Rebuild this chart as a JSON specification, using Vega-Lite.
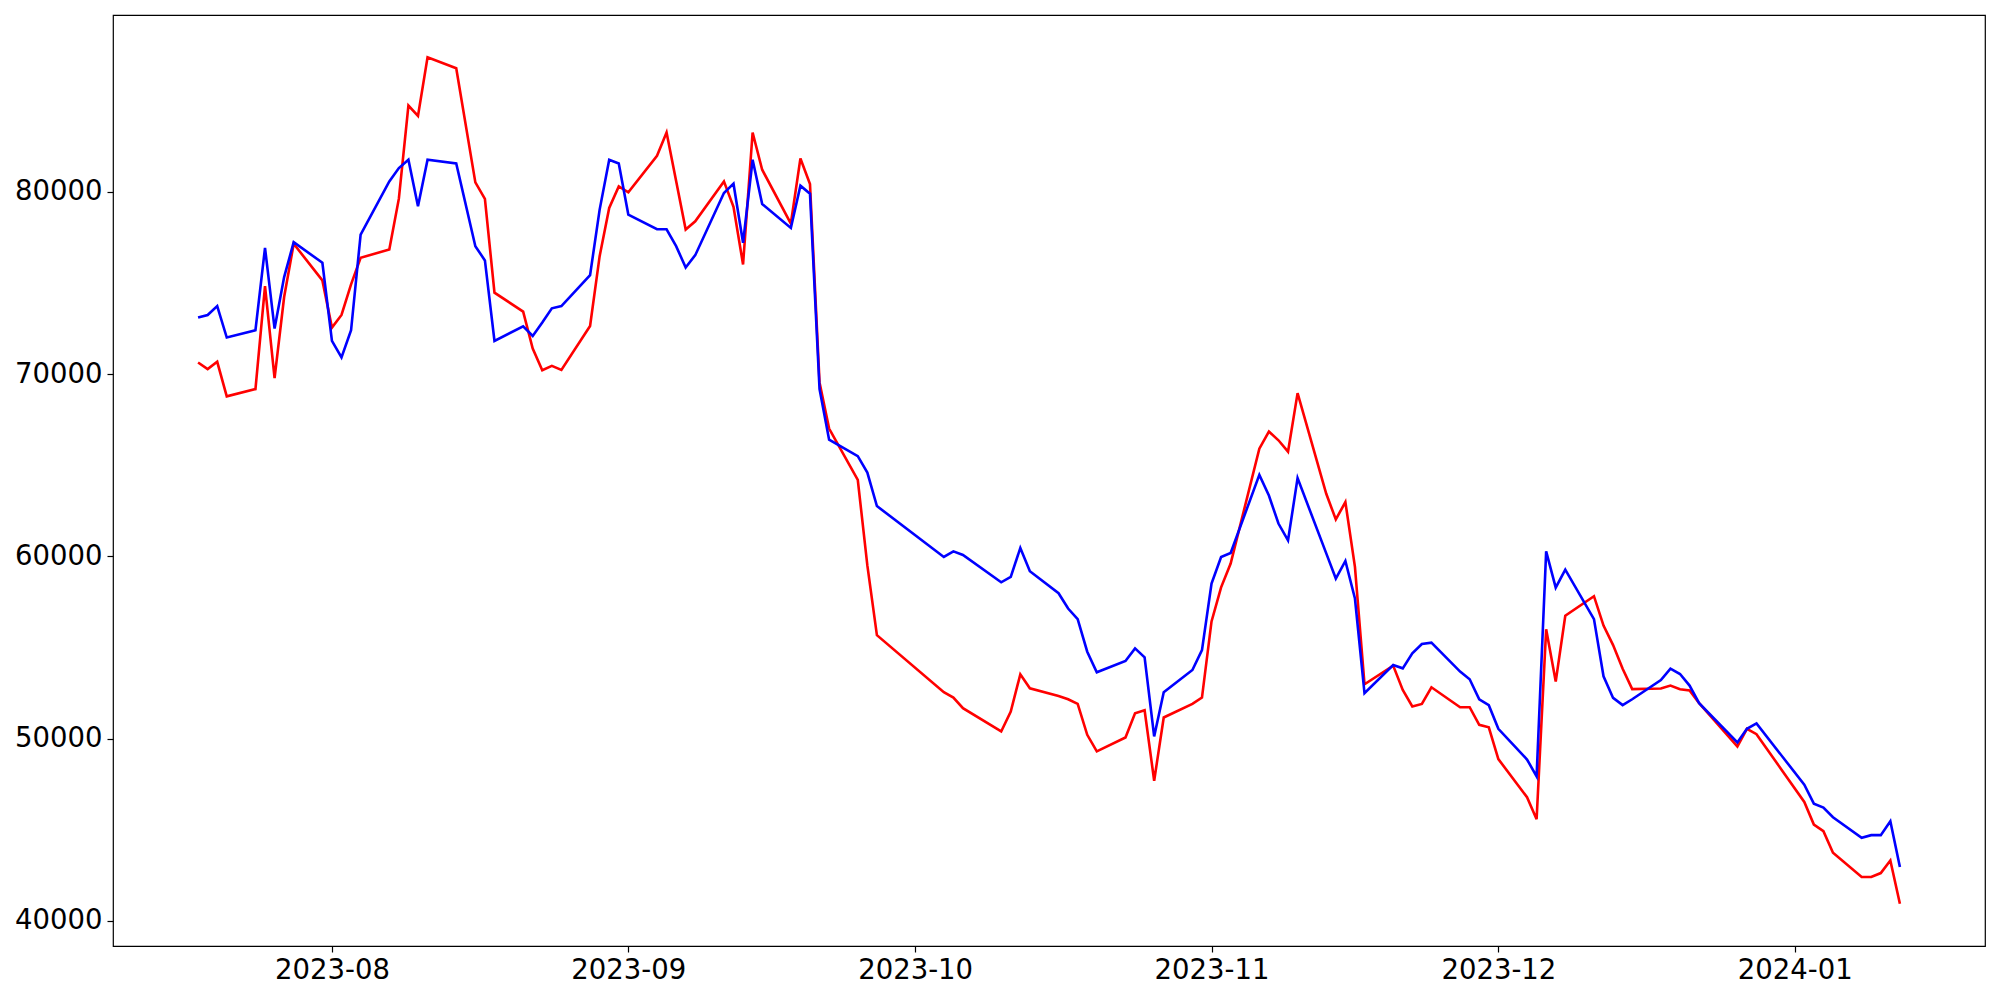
{
  "$schema": "https://vega.github.io/schema/vega-lite/v6.json",
  "width": 1872,
  "height": 931,
  "autosize": {"type": "none"},
  "padding": {"left": 113, "top": 15, "right": 15, "bottom": 54},
  "background": "white",
  "config": {
    "view": {"stroke": "black", "strokeWidth": 1.2},
    "axis": {
      "domain": false,
      "grid": false,
      "ticks": true,
      "tickColor": "black",
      "tickSize": 6,
      "tickWidth": 1.2,
      "labelColor": "black",
      "labelFont": "DejaVu Sans",
      "labelFontSize": 27.5,
      "labelPadding": 5,
      "title": null
    }
  },
  "data": {
    "values": [
      {"date": "2023-07-18", "A": 70640, "B": 73103},
      {"date": "2023-07-19", "A": 70274, "B": 73246},
      {"date": "2023-07-20", "A": 70676, "B": 73738},
      {"date": "2023-07-21", "A": 68780, "B": 72009},
      {"date": "2023-07-24", "A": 69179, "B": 72408},
      {"date": "2023-07-25", "A": 74833, "B": 76935},
      {"date": "2023-07-26", "A": 69781, "B": 72501},
      {"date": "2023-07-27", "A": 74231, "B": 75326},
      {"date": "2023-07-28", "A": 77153, "B": 77242},
      {"date": "2023-07-31", "A": 75145, "B": 76114},
      {"date": "2023-08-01", "A": 72556, "B": 71823},
      {"date": "2023-08-02", "A": 73246, "B": 70914},
      {"date": "2023-08-03", "A": 74926, "B": 72408},
      {"date": "2023-08-04", "A": 76387, "B": 77663},
      {"date": "2023-08-07", "A": 76842, "B": 80580},
      {"date": "2023-08-08", "A": 79633, "B": 81313},
      {"date": "2023-08-09", "A": 84740, "B": 81768},
      {"date": "2023-08-10", "A": 84176, "B": 79212},
      {"date": "2023-08-11", "A": 87389, "B": 81768},
      {"date": "2023-08-14", "A": 86787, "B": 81566},
      {"date": "2023-08-16", "A": 80525, "B": 77024},
      {"date": "2023-08-17", "A": 79617, "B": 76240},
      {"date": "2023-08-18", "A": 74472, "B": 71823},
      {"date": "2023-08-21", "A": 73432, "B": 72627},
      {"date": "2023-08-22", "A": 71407, "B": 72097},
      {"date": "2023-08-23", "A": 70219, "B": 72830},
      {"date": "2023-08-24", "A": 70455, "B": 73613},
      {"date": "2023-08-25", "A": 70236, "B": 73738},
      {"date": "2023-08-28", "A": 72644, "B": 75435},
      {"date": "2023-08-29", "A": 76475, "B": 79031},
      {"date": "2023-08-30", "A": 79124, "B": 81768},
      {"date": "2023-08-31", "A": 80306, "B": 81566},
      {"date": "2023-09-01", "A": 79978, "B": 78758},
      {"date": "2023-09-04", "A": 81987, "B": 77953},
      {"date": "2023-09-05", "A": 83262, "B": 77953},
      {"date": "2023-09-06", "A": 80600, "B": 77024},
      {"date": "2023-09-07", "A": 77937, "B": 75857},
      {"date": "2023-09-08", "A": 78392, "B": 76530},
      {"date": "2023-09-11", "A": 80580, "B": 79945},
      {"date": "2023-09-12", "A": 79179, "B": 80454},
      {"date": "2023-09-13", "A": 76021, "B": 77209},
      {"date": "2023-09-14", "A": 83262, "B": 81768},
      {"date": "2023-09-15", "A": 81221, "B": 79343},
      {"date": "2023-09-18", "A": 78265, "B": 78026},
      {"date": "2023-09-19", "A": 81840, "B": 80345},
      {"date": "2023-09-20", "A": 80438, "B": 79907},
      {"date": "2023-09-21", "A": 69545, "B": 69179},
      {"date": "2023-09-22", "A": 67010, "B": 66400},
      {"date": "2023-09-25", "A": 64198, "B": 65496},
      {"date": "2023-09-26", "A": 59500, "B": 64600},
      {"date": "2023-09-27", "A": 55676, "B": 62759},
      {"date": "2023-10-04", "A": 52540, "B": 59967},
      {"date": "2023-10-05", "A": 52250, "B": 60274},
      {"date": "2023-10-06", "A": 51664, "B": 60077},
      {"date": "2023-10-10", "A": 50389, "B": 58577},
      {"date": "2023-10-11", "A": 51483, "B": 58872},
      {"date": "2023-10-12", "A": 53525, "B": 60460},
      {"date": "2023-10-13", "A": 52759, "B": 59179},
      {"date": "2023-10-16", "A": 52337, "B": 57975},
      {"date": "2023-10-17", "A": 52157, "B": 57137},
      {"date": "2023-10-18", "A": 51900, "B": 56552},
      {"date": "2023-10-19", "A": 50203, "B": 54767},
      {"date": "2023-10-20", "A": 49294, "B": 53634},
      {"date": "2023-10-23", "A": 50060, "B": 54253},
      {"date": "2023-10-24", "A": 51390, "B": 54948},
      {"date": "2023-10-25", "A": 51555, "B": 54456},
      {"date": "2023-10-26", "A": 47685, "B": 50115},
      {"date": "2023-10-27", "A": 51155, "B": 52540},
      {"date": "2023-10-30", "A": 51900, "B": 53760},
      {"date": "2023-10-31", "A": 52250, "B": 54855},
      {"date": "2023-11-01", "A": 56430, "B": 58506},
      {"date": "2023-11-02", "A": 58300, "B": 59967},
      {"date": "2023-11-03", "A": 59601, "B": 60186},
      {"date": "2023-11-06", "A": 65910, "B": 64472},
      {"date": "2023-11-07", "A": 66850, "B": 63339},
      {"date": "2023-11-08", "A": 66370, "B": 61800},
      {"date": "2023-11-09", "A": 65747, "B": 60876},
      {"date": "2023-11-10", "A": 68960, "B": 64291},
      {"date": "2023-11-13", "A": 63432, "B": 60164},
      {"date": "2023-11-14", "A": 62025, "B": 58779},
      {"date": "2023-11-15", "A": 62978, "B": 59748},
      {"date": "2023-11-16", "A": 59420, "B": 57685},
      {"date": "2023-11-17", "A": 52978, "B": 52485},
      {"date": "2023-11-20", "A": 54001, "B": 54034},
      {"date": "2023-11-21", "A": 52666, "B": 53853},
      {"date": "2023-11-22", "A": 51757, "B": 54675},
      {"date": "2023-11-23", "A": 51900, "B": 55184},
      {"date": "2023-11-24", "A": 52814, "B": 55260},
      {"date": "2023-11-27", "A": 51719, "B": 53673},
      {"date": "2023-11-28", "A": 51719, "B": 53251},
      {"date": "2023-11-29", "A": 50750, "B": 52157},
      {"date": "2023-11-30", "A": 50616, "B": 51830},
      {"date": "2023-12-01", "A": 48872, "B": 50531},
      {"date": "2023-12-04", "A": 46776, "B": 48850},
      {"date": "2023-12-05", "A": 45570, "B": 47926},
      {"date": "2023-12-06", "A": 56000, "B": 60274},
      {"date": "2023-12-07", "A": 53125, "B": 58280},
      {"date": "2023-12-08", "A": 56738, "B": 59272},
      {"date": "2023-12-11", "A": 57811, "B": 56552},
      {"date": "2023-12-12", "A": 56200, "B": 53415},
      {"date": "2023-12-13", "A": 55129, "B": 52230},
      {"date": "2023-12-14", "A": 53830, "B": 51836},
      {"date": "2023-12-15", "A": 52712, "B": 52157},
      {"date": "2023-12-18", "A": 52742, "B": 53213},
      {"date": "2023-12-19", "A": 52907, "B": 53837},
      {"date": "2023-12-20", "A": 52704, "B": 53541},
      {"date": "2023-12-21", "A": 52633, "B": 52907},
      {"date": "2023-12-22", "A": 51938, "B": 51938},
      {"date": "2023-12-26", "A": 49568, "B": 49787},
      {"date": "2023-12-27", "A": 50531, "B": 50531},
      {"date": "2023-12-28", "A": 50241, "B": 50827},
      {"date": "2024-01-02", "A": 46519, "B": 47466},
      {"date": "2024-01-03", "A": 45276, "B": 46426},
      {"date": "2024-01-04", "A": 44915, "B": 46207},
      {"date": "2024-01-05", "A": 43727, "B": 45681},
      {"date": "2024-01-08", "A": 42397, "B": 44549},
      {"date": "2024-01-09", "A": 42397, "B": 44696},
      {"date": "2024-01-10", "A": 42616, "B": 44696},
      {"date": "2024-01-11", "A": 43306, "B": 45463},
      {"date": "2024-01-12", "A": 40936, "B": 42945}
    ]
  },
  "encoding": {
    "x": {
      "field": "date",
      "type": "temporal",
      "scale": {
        "type": "utc",
        "domain": [
          {"year": 2023, "month": 7, "date": 9, "hours": 2, "minutes": 24, "utc": true},
          {"year": 2024, "month": 1, "date": 20, "hours": 21, "minutes": 36, "utc": true}
        ]
      },
      "axis": {
        "labelExpr": "utcFormat(datum.value, '%Y-%m')",
        "values": [
          {"year": 2023, "month": 8, "date": 1, "utc": true},
          {"year": 2023, "month": 9, "date": 1, "utc": true},
          {"year": 2023, "month": 10, "date": 1, "utc": true},
          {"year": 2023, "month": 11, "date": 1, "utc": true},
          {"year": 2023, "month": 12, "date": 1, "utc": true},
          {"year": 2024, "month": 1, "date": 1, "utc": true}
        ],
        "labelPadding": 4
      }
    }
  },
  "layer": [
    {
      "mark": {"type": "line", "color": "#ff0000", "strokeWidth": 2.6},
      "encoding": {
        "y": {
          "field": "A",
          "type": "quantitative",
          "scale": {"domain": [38613, 89712], "zero": false, "nice": false},
          "axis": {"values": [40000, 50000, 60000, 70000, 80000], "format": "d"}
        }
      }
    },
    {
      "mark": {"type": "line", "color": "#0000ff", "strokeWidth": 2.6},
      "encoding": {
        "y": {"field": "B", "type": "quantitative"}
      }
    }
  ],
  "resolve": {"scale": {"y": "shared"}}
}
